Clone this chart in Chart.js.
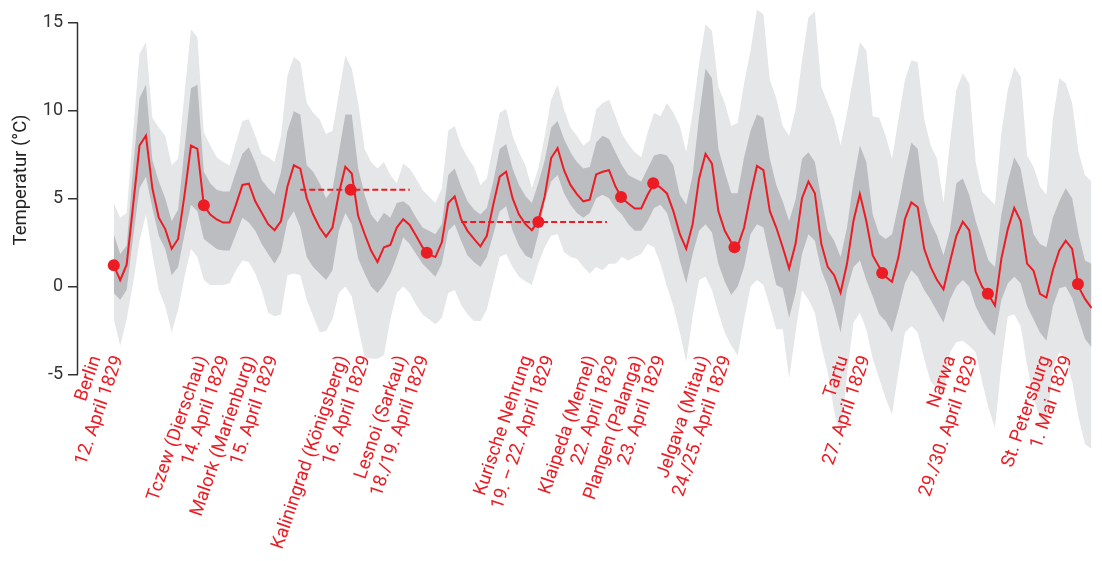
<!DOCTYPE html>
<html>
<head>
<meta charset="utf-8">
<script src="https://cdn.jsdelivr.net/npm/chart.js@4.4.1/dist/chart.umd.min.js"></script>
<style>
  html, body { margin: 0; padding: 0; background: #fff; }
</style>
</head>
<body>
<canvas id="tempChart" width="1102" height="561"></canvas>
<script>
// 3-hourly values, Berlin (12 April) to beyond St. Petersburg (1 May 1829)
var temps = [1.21,0.37,1.25,4.6,8.02,8.58,5.59,3.92,3.27,2.15, 2.71,5.22,8.02,7.83,4.62,4.1,3.82,3.64,3.64,4.66,
  5.78,5.85,4.85,4.2,3.55,3.21,3.73,5.69,6.9,6.71, 5.03,4.1,3.36,2.84,3.36,5.31,6.81,6.43,4.01,2.99,
  2.05,1.4,2.24,2.37,3.36,3.83,3.51,2.89,2.24,1.83, 1.68,2.52,4.75,5.13,3.83,3.17,2.71,2.29,2.89,4.66,
  6.25,6.53,5.03,4.1,3.55,3.21,3.73,5.13,7.31,7.87, 6.62,5.78,5.26,4.85,4.94,6.38,6.53,6.62,5.69,5.03,
  4.72,4.44,4.44,5.22,5.87,5.63,5.3,4.29,2.99,2.15, 3.55,6.15,7.55,6.99,4.29,3.17,2.52,2.3,3.36,5.22,
  6.86,6.62,4.29,3.36,2.24,1.03,2.43,5.03,5.97,5.31, 2.43,1.12,0.65,-0.34,1.31,3.73,5.26,3.73,1.77,1.12,
  0.56,0.28,1.68,3.83,4.79,4.51,2.15,1.12,0.37,-0.15, 1.4,2.89,3.69,3.21,0.84,0.0,-0.46,-1.08,1.59,3.27,
  4.47,3.73,1.31,0.9,-0.41,-0.62,0.93,2.05,2.61,2.15, 0.0,-0.7,-1.21];

var darkHigh = [2.98,1.86,2.33,6.71,10.72,11.47,7.18,5.97,5.03,3.73, 4.38,7.83,11.28,11.47,6.53,5.87,5.5,5.41,5.41,6.53,
  7.55,7.92,7.08,6.06,5.59,5.22,6.53,8.86,9.97,9.79, 6.9,6.53,5.87,5.03,5.5,7.64,9.79,9.79,6.71,5.22,
  4.1,3.64,4.2,3.91,4.75,4.85,4.57,3.91,3.36,3.17, 2.98,3.54,6.34,6.71,5.69,4.85,4.38,4.1,4.47,5.97,
  7.83,8.11,6.71,5.78,5.15,4.75,5.87,7.18,9.04,9.41, 8.39,7.64,7.08,6.71,6.8,8.2,8.58,8.39,7.64,6.9,
  6.34,6.15,5.97,6.71,7.46,7.55,7.46,6.9,5.22,4.66, 6.34,9.69,12.4,11.84,7.83,6.53,5.31,5.31,7.36,8.86,
  9.79,9.6,7.27,5.78,4.85,3.73,4.94,7.27,7.64,7.08, 5.03,3.17,2.61,1.68,3.36,5.97,8.02,7.08,4.1,2.98,
  2.7,2.98,4.66,6.53,8.2,7.83,4.85,3.64,2.89,1.77, 3.17,5.87,6.15,5.22,3.73,2.61,1.49,1.12,4.1,5.97,
  7.36,6.71,4.66,2.98,2.42,2.24,3.91,4.85,5.59,5.03, 2.98,1.49,1.3];

var darkLow = [-0.37,-0.75,-0.19,2.8,5.59,6.25,4.47,2.89,2.14,0.65, 1.12,2.98,4.66,4.29,2.7,2.42,2.14,2.05,2.05,2.98,
  3.91,3.64,3.17,2.42,1.86,1.3,1.96,3.73,4.29,3.36, 1.68,1.12,0.75,0.37,0.93,3.17,4.19,3.54,1.58,0.75,
  0,-0.37,0.1,0.75,1.68,2.8,2.42,1.86,1.3,0.93, 0.56,1.3,3.17,3.54,2.61,1.77,1.4,1.12,1.68,2.98,
  4.29,4.57,3.17,2.33,1.77,1.58,2.98,4.85,5.97,6.34, 5.31,4.66,4.19,3.91,4.19,5.03,5.22,5.03,4.47,4.1,
  3.54,3.17,3.17,3.73,4.47,4.66,4.2,2.98,1.49,0.19, 1.86,3.17,3.54,3.08,1.3,0.28,-0.47,0,1.12,2.98,
  3.54,3.36,1.68,0.09,-0.09,-1.77,-0.37,1.86,2.98,2.61, 0.93,0,-1.21,-2.61,-0.19,1.12,1.49,0.37,-0.56,-1.58,
  -1.96,-2.61,-1.3,0.19,0.93,0.56,-0.19,-0.75,-1.4,-2.05, -0.75,0,0.37,0,-1.12,-1.86,-2.42,-2.8,-0.75,0.19,
  0.56,0.19,-1.12,-1.86,-2.61,-3.08,-1.12,-0.09,0,-0.65, -1.86,-2.98,-3.45];

var lightHigh = [4.75,3.91,4.19,8.76,13.24,13.89,9.6,9.04,8.58,6.9, 7.27,11.0,14.63,14.17,8.76,8.02,7.36,7.08,6.9,8.2,
  9.41,9.51,8.58,7.55,7.36,7.08,8.58,12.02,13.05,12.77, 10.44,9.88,9.51,8.67,8.86,11.0,13.14,12.4,10.44,7.83,
  7.08,6.71,7.08,6.34,5.87,6.99,6.71,6.15,5.5,5.13, 4.75,5.59,8.86,9.13,8.02,7.36,6.8,5.78,6.15,8.02,
  9.88,10.1,8.58,7.64,6.9,5.59,6.71,8.58,10.63,11.47, 10.07,9.04,8.58,8.02,8.3,10.07,10.44,10.63,9.69,8.67,
  8.11,7.64,7.36,8.76,9.88,9.69,10.44,9.88,9.13,7.64, 9.88,12.68,14.91,14.54,11.37,10.44,9.13,9.32,11.56,13.42,
  15.75,15.47,11.74,10.72,9.13,8.58,10.07,12.86,15.29,15.66, 11.37,10.44,9.51,8.02,9.88,11.93,13.89,13.42,9.69,9.6,
  8.58,7.27,9.51,11.74,12.86,12.77,9.51,8.02,7.27,4.75, 8.2,11.19,12.12,11.56,7.08,5.41,5.03,4.66,8.76,11.19,
  12.49,11.93,7.46,6.8,5.69,5.22,9.51,11.84,11.56,10.44, 7.64,6.34,5.97];

var lightLow = [-1.86,-3.36,-1.86,0.19,2.61,4.1,1.86,-0.19,-1.12,-2.61, -1.3,0.56,2.14,1.68,0.37,0.09,0.09,0.09,0.19,0.93,
  1.49,1.4,0.75,-0.19,-1.49,-1.68,-1.58,0.65,0.75,0.65, -0.75,-1.68,-2.61,-2.52,-1.86,-0.37,0,-0.56,-2.33,-4.01,
  -4.1,-4.1,-3.9,-1.86,-0.37,0,-0.37,-1.03,-1.58,-1.86, -2.14,-1.77,-0.37,-0.19,-1.03,-1.58,-1.96,-1.96,-1.3,0.19,
  1.68,1.86,1.12,0.56,0.3,0.09,1.3,2.24,2.89,2.98, 1.96,1.68,1.58,1.12,0.75,1.12,0.93,1.3,1.3,1.68,
  1.49,1.68,1.86,2.42,2.24,1.3,0,-1.12,-2.61,-4.29, -1.68,0.37,0.56,-0.19,-1.49,-2.61,-3.36,-3.91,-1.86,0,
  0.37,0.09,-1.12,-2.42,-2.42,-5.22,-2.61,-0.19,-0.75,-1.49, -3.36,-4.85,-7.08,-8.58,-5.03,-2.05,-1.49,-2.42,-4.1,-5.22,
  -6.34,-7.27,-4.85,-2.61,-2.24,-2.61,-4.1,-5.41,-5.78,-6.15, -3.73,-3.17,-3.08,-3.36,-3.73,-5.41,-6.9,-8.02,-4.47,-1.68,
  -1.58,-2.24,-4.47,-6.34,-7.46,-8.02,-4.66,-3.73,-4.1,-5.41, -7.46,-8.95,-9.23];

// stations (hours after departure from Berlin)
var stationNames = ['Berlin', 'Tczew (Dierschau)', 'Malork (Marienburg)', 'Kaliningrad (Königsberg)',
  'Lesnoi (Sarkau)', 'Kurische Nehrung', 'Klaipeda (Memel)', 'Plangen (Palanga)', 'Jelgava (Mitau)',
  'Tartu', 'Narwa', 'St. Petersburg'];
var stationDates = ['12. April 1829', '14. April 1829', '15. April 1829', '16. April 1829',
  '18./19. April 1829', '19. – 22. April 1829', '22. April 1829', '23. April 1829', '24./25. April 1829',
  '27. April 1829', '29./30. April 1829', '1. Mai 1829'];
var labelHours = [4.2, 53.8, 76.5, 119.6, 147, 205.4, 235.5, 257.3, 287.9, 352.8, 402.9, 447];

var dotHours = [0, 42, 110.5, 146, 198, 236.6, 251.6, 289.5, 358.4, 407.7, 449.7];
var dotTemps = [1.21, 4.62, 5.5, 1.92, 3.67, 5.09, 5.87, 2.24, 0.78, -0.41, 0.15];

// stay averages (dashed)
var stayFrom = [87, 162];
var stayTo = [138, 230];
var stayTemp = [5.5, 3.67];

var yTicks = [-5, 0, 5, 10, 15];

var RED = '#ec1c24';
var hours = temps.map(function (v, i) { return i * 3; });
function series(arr) { return arr.map(function (v, i) { return { x: hours[i], y: v }; }); }

var stayPts = [];
stayFrom.forEach(function (f, i) {
  stayPts.push({ x: f, y: stayTemp[i] }, { x: stayTo[i], y: stayTemp[i] }, { x: stayTo[i] + 1, y: null });
});

var decor = {
  id: 'decor',
  afterDraw: function (chart) {
    var ctx = chart.ctx, xs = chart.scales.x, ys = chart.scales.y;
    ctx.save();
    // y axis line, only over the tick range
    ctx.strokeStyle = '#333';
    ctx.lineWidth = 1.5;
    ctx.beginPath();
    ctx.moveTo(ys.right - 0.5, ys.getPixelForValue(yTicks[yTicks.length - 1]));
    ctx.lineTo(ys.right - 0.5, ys.getPixelForValue(yTicks[0]));
    ctx.stroke();

    // y title
    ctx.fillStyle = '#222';
    ctx.font = '18.5px Roboto';
    ctx.textAlign = 'center';
    ctx.textBaseline = 'middle';
    ctx.translate(21, 180);
    ctx.rotate(-Math.PI / 2);
    ctx.fillText('Temperatur (°C)', 0, 0);
    ctx.restore();

    // station labels
    ctx.save();
    ctx.fillStyle = RED;
    ctx.font = '18.5px Roboto';
    ctx.textAlign = 'right';
    ctx.textBaseline = 'alphabetic';
    var ang = -71 * Math.PI / 180;
    stationNames.forEach(function (name, i) {
      var px = xs.getPixelForValue(labelHours[i]);
      [name, stationDates[i]].forEach(function (txt, k) {
        ctx.save();
        ctx.translate(px - (1 - k) * 22, 358);
        ctx.rotate(ang);
        ctx.fillText(txt, 0, 0);
        ctx.restore();
      });
    });
    ctx.restore();
  }
};

new Chart(document.getElementById('tempChart'), {
  type: 'line',
  data: {
    datasets: [{
      label: 'Temperatur',
      data: series(temps),
      borderColor: RED,
      borderWidth: 2,
      pointRadius: 0,
      fill: false,
      order: 1
    }, {
      label: 'Stationen',
      data: dotHours.map(function (h, i) { return { x: h, y: dotTemps[i] }; }),
      showLine: false,
      pointRadius: 6,
      pointBackgroundColor: RED,
      pointBorderWidth: 0,
      order: 0
    }, {
      label: 'Aufenthalt',
      data: stayPts,
      borderColor: RED,
      borderWidth: 2,
      borderDash: [6, 3],
      pointRadius: 0,
      spanGaps: false,
      fill: false,
      order: 2
    }, {
      label: 'dark high',
      data: series(darkHigh),
      borderWidth: 0,
      borderColor: 'rgba(0,0,0,0)',
      backgroundColor: '#bcbdc1',
      pointRadius: 0,
      fill: 4,
      order: 3
    }, {
      label: 'dark low',
      data: series(darkLow),
      borderWidth: 0,
      borderColor: 'rgba(0,0,0,0)',
      pointRadius: 0,
      fill: false,
      order: 4
    }, {
      label: 'light high',
      data: series(lightHigh),
      borderWidth: 0,
      borderColor: 'rgba(0,0,0,0)',
      backgroundColor: '#e5e6e8',
      pointRadius: 0,
      fill: 6,
      order: 5
    }, {
      label: 'light low',
      data: series(lightLow),
      borderWidth: 0,
      borderColor: 'rgba(0,0,0,0)',
      pointRadius: 0,
      fill: false,
      order: 6
    }]
  },
  options: {
    responsive: false,
    animation: false,
    layout: { padding: { top: 5, bottom: 5, left: 0, right: 0 } },
    plugins: { legend: { display: false }, tooltip: { enabled: false } },
    scales: {
      x: { type: 'linear', display: false, min: -16.69, max: 458.13 },
      y: {
        min: -15.06,
        max: 15.755,
        afterBuildTicks: function (s) { s.ticks = yTicks.map(function (v) { return { value: v }; }); },
        afterFit: function (s) { s.width = 78; },
        border: { display: false },
        grid: { display: true, drawOnChartArea: false, drawTicks: true, tickLength: 10, color: '#333', lineWidth: 1.5 },
        ticks: { color: '#333', padding: 5, font: { family: 'Roboto', size: 18, lineHeight: 0.5 } }
      }
    }
  },
  plugins: [decor]
});
</script>
</body>
</html>
